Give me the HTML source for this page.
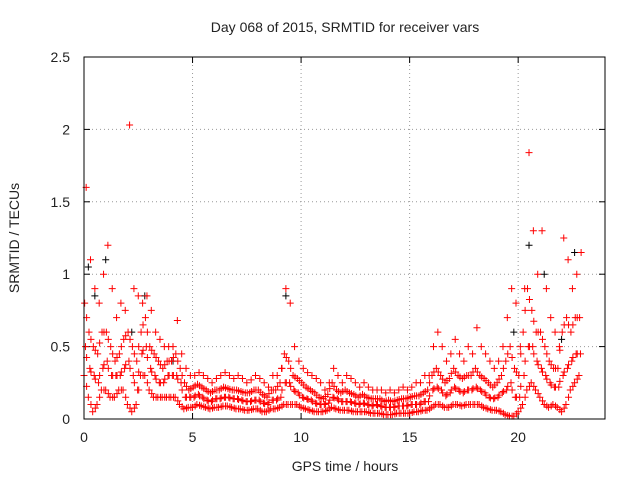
<!DOCTYPE html>
<html><head><meta charset="utf-8"><style>
body{margin:0;background:#fff}
svg{display:block;font-family:"Liberation Sans",sans-serif}
</style></head><body>
<svg id="chart" width="640" height="480">
<text x="345" y="32" font-size="14" text-anchor="middle" fill="#222">Day 068 of 2015, SRMTID for receiver vars</text>
<text x="19" y="238" font-size="14" text-anchor="middle" fill="#222" transform="rotate(-90 19 238)">SRMTID / TECUs</text>
<text x="345" y="471" font-size="14" text-anchor="middle" fill="#222">GPS time / hours</text>
<g id="grid"></g>
<g id="ticks"></g>
<g id="marks"></g>
<rect x="84" y="57" width="521" height="362" fill="none" stroke="#000" stroke-width="1"/>
</svg>
<script>
const xTicks=[0,5,10,15,20];
const yTicks=[0,0.5,1,1.5,2,2.5];
const yTickLabels=["0","0.5","1","1.5","2","2.5"];
const tStart=0, tStep=0.2;
const high=[1.6,1.1,0.9,0.8,1.0, 1.2,0.9,0.7,0.8,0.75, 2.03,0.9,0.85,0.8,0.85, 0.75,0.6,0.55,0.5,0.5, 0.5,0.68,0.45,0.35,0.3, 0.3,0.32,0.3,0.28,0.25, 0.28,0.3,0.32,0.3,0.28, 0.3,0.28,0.25,0.27,0.3, 0.28,0.25,0.22,0.3,0.3, 0.35,0.9,0.8,0.5,0.4, 0.35,0.32,0.3,0.28,0.25, 0.2,0.25,0.35,0.3,0.25, 0.3,0.28,0.25,0.22,0.25, 0.22,0.2,0.2,0.2,0.18, 0.2,0.18,0.2,0.22,0.2, 0.22,0.25,0.25,0.3,0.3, 0.5,0.6,0.5,0.4,0.45, 0.55,0.45,0.4,0.5,0.45, 0.63,0.5,0.45,0.4,0.35, 0.4,0.5,0.7,0.9,0.8, 0.5,0.9,1.84,1.3,1.0, 1.3,0.9,0.7,0.6,0.5, 1.25,1.1,0.9,1.0,1.15];
const midHigh=[0.8,0.6,0.5,0.45,0.6, 0.6,0.5,0.4,0.45,0.55, 0.6,0.5,0.4,0.6,0.7, 0.5,0.45,0.4,0.35,0.4, 0.4,0.45,0.35,0.25,0.2, 0.22,0.24,0.22,0.2,0.18, 0.2,0.2,0.22,0.21,0.2, 0.2,0.19,0.18,0.18,0.2, 0.2,0.17,0.15,0.2,0.2, 0.25,0.45,0.4,0.3,0.28, 0.25,0.22,0.2,0.18,0.15, 0.14,0.17,0.25,0.2,0.18, 0.2,0.18,0.17,0.15,0.17, 0.15,0.14,0.14,0.14,0.12, 0.13,0.12,0.13,0.14,0.14, 0.15,0.16,0.16,0.18,0.2, 0.3,0.35,0.3,0.25,0.28, 0.35,0.3,0.28,0.3,0.3, 0.35,0.3,0.28,0.25,0.22, 0.25,0.3,0.4,0.5,0.35, 0.3,0.6,0.9,0.75,0.6, 0.6,0.5,0.4,0.35,0.35, 0.6,0.7,0.6,0.7,0.7];
const midLow=[0.5,0.35,0.3,0.25,0.35, 0.4,0.3,0.3,0.3,0.35, 0.4,0.3,0.2,0.45,0.5, 0.35,0.3,0.25,0.25,0.3, 0.3,0.3,0.25,0.15,0.15, 0.15,0.17,0.15,0.13,0.12, 0.14,0.14,0.15,0.15,0.14, 0.14,0.13,0.12,0.12,0.13, 0.13,0.11,0.1,0.13,0.13, 0.15,0.25,0.25,0.2,0.18, 0.15,0.14,0.13,0.11,0.1, 0.1,0.11,0.15,0.14,0.12, 0.12,0.12,0.11,0.1,0.11, 0.1,0.09,0.1,0.09,0.08, 0.08,0.08,0.09,0.09,0.09, 0.1,0.1,0.1,0.12,0.12, 0.2,0.22,0.2,0.16,0.18, 0.22,0.2,0.18,0.2,0.2, 0.22,0.2,0.18,0.15,0.14, 0.15,0.18,0.2,0.25,0.15, 0.15,0.3,0.5,0.5,0.4, 0.35,0.3,0.25,0.22,0.22, 0.3,0.35,0.4,0.45,0.45];
const low=[0.3,0.15,0.05,0.1,0.2, 0.2,0.15,0.15,0.2,0.2, 0.1,0.05,0.1,0.3,0.3, 0.2,0.15,0.15,0.15,0.15, 0.15,0.15,0.1,0.07,0.08, 0.08,0.1,0.09,0.08,0.07, 0.08,0.08,0.09,0.09,0.08, 0.07,0.07,0.06,0.06,0.07, 0.07,0.05,0.05,0.07,0.07, 0.08,0.1,0.1,0.1,0.1, 0.08,0.07,0.06,0.05,0.05, 0.05,0.06,0.08,0.07,0.06, 0.06,0.06,0.05,0.05,0.05, 0.05,0.04,0.04,0.04,0.03, 0.03,0.03,0.04,0.04,0.04, 0.04,0.05,0.05,0.06,0.06, 0.08,0.1,0.1,0.08,0.08, 0.1,0.1,0.09,0.1,0.1, 0.1,0.1,0.08,0.07,0.06, 0.06,0.05,0.03,0.02,0.02, 0.05,0.1,0.2,0.25,0.2, 0.15,0.1,0.08,0.1,0.08, 0.05,0.1,0.2,0.25,0.3];
const blackTimes=[0.2,0.5,1.0,2.2,2.8,4.1,9.3,19.8,20.5,21.2,22.0,22.6];
const blackValues=[1.05,0.85,1.1,0.6,0.85,0.4,0.85,0.6,1.2,1.0,0.55,1.15];

const X0=84,X1=605,Y0=419,Y1=57,XMAX=24,YMAX=2.5;
const xs=v=>X0+v/XMAX*(X1-X0);
const ys=v=>Y0-v/YMAX*(Y0-Y1);
const NS="http://www.w3.org/2000/svg";
const grid=document.getElementById('grid'),ticks=document.getElementById('ticks'),marks=document.getElementById('marks');
function mk(tag,attrs,parent){const e=document.createElementNS(NS,tag);for(const k in attrs)e.setAttribute(k,attrs[k]);parent.appendChild(e);return e;}
xTicks.forEach(v=>{
  const x=xs(v);
  if(v>0){const g=mk('line',{x1:x,x2:x,y1:Y1,y2:Y0,stroke:'#999','stroke-dasharray':'1,3'},grid);
  
  }
  mk('line',{x1:x,x2:x,y1:Y0,y2:Y0-6,stroke:'#000'},ticks);
  mk('line',{x1:x,x2:x,y1:Y1,y2:Y1+6,stroke:'#000'},ticks);
  const t=mk('text',{x:x,y:442,'font-size':14,'text-anchor':'middle',fill:'#222'},ticks);t.textContent=v;
  
  
});
yTicks.forEach((v,i)=>{
  const y=ys(v);
  if(v>0&&v<YMAX){const g=mk('line',{x1:X0,x2:X1,y1:y,y2:y,stroke:'#999','stroke-dasharray':'1,3'},grid);
  
  }
  mk('line',{x1:X0,x2:X0+6,y1:y,y2:y,stroke:'#000'},ticks);
  mk('line',{x1:X1,x2:X1-6,y1:y,y2:y,stroke:'#000'},ticks);
  const t=mk('text',{x:70,y:y+5,'font-size':14,'text-anchor':'end',fill:'#222'},ticks);t.textContent=yTickLabels[i];
  
  
});
function plus(t,v,col){
  const x=xs(t),y=ys(v);
  const p=mk('path',{d:`M${x-3.5},${y}h7M${x},${y-3.5}v7`,stroke:col,'stroke-width':1,fill:'none'},marks);
  
  
}
blackTimes.forEach((t,i)=>plus(t,blackValues[i],'#000'));
const seriesList=[low,midLow,midHigh,high];
const phase=[0,0.07,0.03,0.1];
seriesList.forEach((arr,k)=>arr.forEach((v,i)=>plus(tStart+i*tStep+phase[k],v,'#f00')));
[low,midLow,midHigh].forEach(arr=>arr.forEach((v,i)=>{if(i+1<arr.length)plus(tStart+i*tStep+0.12,(v+arr[i+1])/2,'#f00');}));
</script>
</body></html>
